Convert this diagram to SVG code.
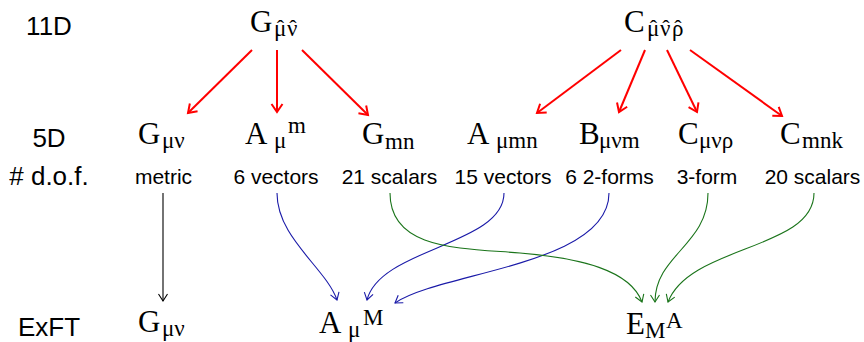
<svg xmlns="http://www.w3.org/2000/svg" width="864" height="342" viewBox="0 0 864 342">
<defs>
<style>
.lbl{font-family:"Liberation Sans",Arial,sans-serif;font-size:26px;fill:#000;text-anchor:middle}
.dof{font-family:"Liberation Sans",Arial,sans-serif;font-size:21px;fill:#000;text-anchor:middle}
.m{font-family:"Liberation Serif","Times New Roman",serif;font-size:31px;fill:#000}
.s{font-size:23px}
.h{font-size:22px}
.red{stroke:#ff0000;stroke-width:2;fill:none;marker-end:url(#ar)}
.blk{stroke:#000;stroke-width:1.1;fill:none;marker-end:url(#ak)}
.blu{stroke:#1a1aa8;stroke-width:1.1;fill:none;marker-end:url(#ab)}
.grn{stroke:#1a741a;stroke-width:1.1;fill:none;marker-end:url(#ag)}
</style>
<marker id="ar" markerUnits="userSpaceOnUse" markerWidth="20" markerHeight="20" refX="0" refY="0" viewBox="-12 -10 14 20" orient="auto" overflow="visible"><path d="M-8,-5.5 L0,0 L-8,5.5" fill="none" stroke="#ff0000" stroke-width="2"/></marker>
<marker id="ak" markerUnits="userSpaceOnUse" markerWidth="20" markerHeight="20" refX="0" refY="0" viewBox="-12 -10 14 20" orient="auto" overflow="visible"><path d="M-7,-4.5 L0,0 L-7,4.5" fill="none" stroke="#000" stroke-width="1.1"/></marker>
<marker id="ab" markerUnits="userSpaceOnUse" markerWidth="20" markerHeight="20" refX="0" refY="0" viewBox="-12 -10 14 20" orient="auto" overflow="visible"><path d="M-7,-4.5 L0,0 L-7,4.5" fill="none" stroke="#1a1aa8" stroke-width="1.1"/></marker>
<marker id="ag" markerUnits="userSpaceOnUse" markerWidth="20" markerHeight="20" refX="0" refY="0" viewBox="-12 -10 14 20" orient="auto" overflow="visible"><path d="M-7,-4.5 L0,0 L-7,4.5" fill="none" stroke="#1a741a" stroke-width="1.1"/></marker>
</defs>
<rect width="864" height="342" fill="#fff"/>
<g id="row-labels">
<text class="lbl" x="49" y="34.5">11D</text>
<text class="lbl" x="49" y="147">5D</text>
<text class="lbl" x="49" y="185"># d.o.f.</text>
<text class="lbl" x="49" y="336">ExFT</text>
</g>
<g id="G11">
<text class="m"><tspan x="250" y="32">G</tspan><tspan class="s" x="274" y="36">μ</tspan><tspan class="s" x="287" y="36">ν</tspan><tspan class="h" x="276.8" y="35">ˆ</tspan><tspan class="h" x="289.3" y="35">ˆ</tspan></text>
</g>
<g id="C11">
<text class="m"><tspan x="624" y="32">C</tspan><tspan class="s" x="647" y="36">μ</tspan><tspan class="s" x="660" y="36">ν</tspan><tspan class="s" x="672" y="36">ρ</tspan><tspan class="h" x="649.8" y="35">ˆ</tspan><tspan class="h" x="662.3" y="35">ˆ</tspan><tspan class="h" x="674.3" y="35">ˆ</tspan></text>
</g>
<g id="G5">
<text class="m"><tspan x="138" y="144">G</tspan><tspan class="s" x="162" y="148">μν</tspan></text>
<text class="dof" x="163.5" y="184">metric</text>
</g>
<g id="A5">
<text class="m"><tspan x="245" y="144">A</tspan><tspan class="s" x="274" y="148">μ</tspan><tspan class="s" x="288" y="133">m</tspan></text>
<text class="dof" x="276" y="184">6 vectors</text>
</g>
<g id="Gmn">
<text class="m"><tspan x="362" y="144">G</tspan><tspan class="s" x="385" y="149">mn</tspan></text>
<text class="dof" x="389.5" y="184">21 scalars</text>
</g>
<g id="Amn">
<text class="m"><tspan x="467" y="144">A</tspan><tspan class="s" x="496" y="148">μmn</tspan></text>
<text class="dof" x="503" y="184">15 vectors</text>
</g>
<g id="B5">
<text class="m"><tspan x="579" y="144">B</tspan><tspan class="s" x="599" y="148">μνm</tspan></text>
<text class="dof" x="609.5" y="184">6 2-forms</text>
</g>
<g id="C5">
<text class="m"><tspan x="678" y="144">C</tspan><tspan class="s" x="699" y="148">μνρ</tspan></text>
<text class="dof" x="707" y="184">3-form</text>
</g>
<g id="Cmnk">
<text class="m"><tspan x="780" y="144">C</tspan><tspan class="s" x="802" y="148">mnk</tspan></text>
<text class="dof" x="812.5" y="184">20 scalars</text>
</g>
<g id="Gex">
<text class="m"><tspan x="138" y="332">G</tspan><tspan class="s" x="162" y="336">μν</tspan></text>
</g>
<g id="Aex">
<text class="m"><tspan x="319" y="333">A</tspan><tspan class="s" x="348" y="337">μ</tspan><tspan class="s" x="363" y="325">M</tspan></text>
</g>
<g id="Eex">
<text class="m"><tspan x="626" y="334">E</tspan><tspan class="s" x="645" y="338">M</tspan><tspan class="s" x="666" y="328">A</tspan></text>
</g>
<g id="connectors">
<line class="red" x1="252" y1="50" x2="188" y2="113"/>
<line class="red" x1="277" y1="50" x2="277" y2="112"/>
<line class="red" x1="302" y1="50" x2="368" y2="115"/>
<line class="red" x1="621" y1="50" x2="537" y2="113"/>
<line class="red" x1="645" y1="50" x2="619" y2="112"/>
<line class="red" x1="667" y1="50" x2="697" y2="112"/>
<line class="red" x1="690" y1="50" x2="782" y2="116"/>
<line class="blk" x1="163" y1="193" x2="163" y2="301"/>
<path class="blu" d="M277,193 C277,238 326,268 337,300"/>
<path class="blu" d="M504,193 C504,245 380,248 367,300"/>
<path class="blu" d="M609,193 C609,265 440,272 395,303"/>
<path class="grn" d="M390,193 C390,250 460,248 520,253 S630,270 642,302"/>
<path class="grn" d="M708,193 C708,245 655,255 655,302"/>
<path class="grn" d="M814,193 C814,250 690,245 668,302"/>
</g>
</svg>
